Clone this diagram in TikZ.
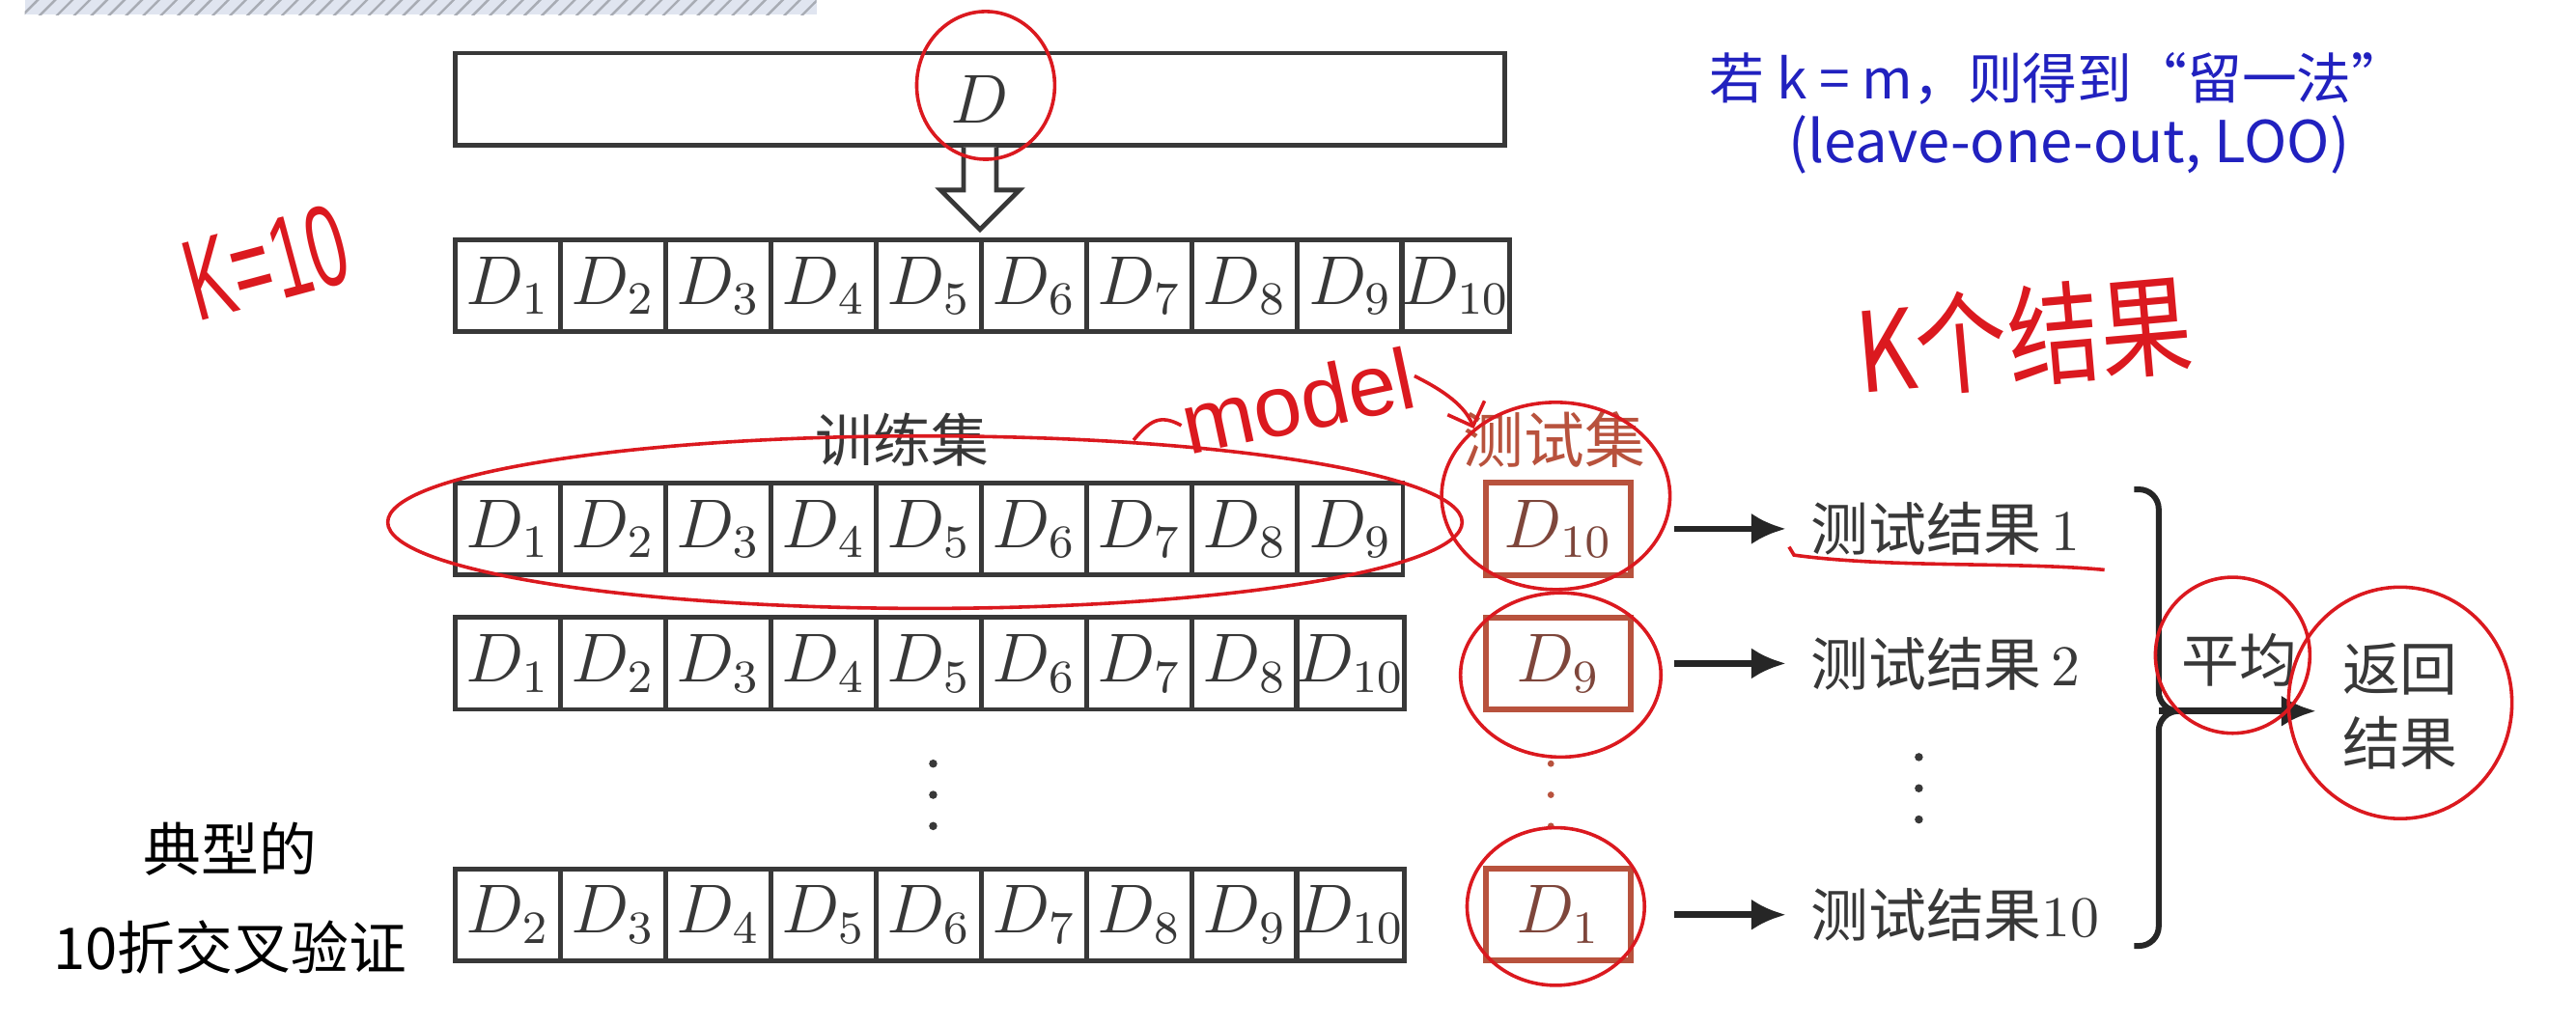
\documentclass[tikz,border=0pt]{standalone}
\usepackage{fontspec}
\newfontfamily\cjk{Noto Sans CJK SC}
\newfontfamily\handfont{Liberation Sans}
\usetikzlibrary{arrows.meta,shapes.geometric,patterns}

\definecolor{cellGrey}{rgb}{0.22,0.22,0.22}
\definecolor{testRed}{rgb}{0.72,0.32,0.24}
\definecolor{penRed}{rgb}{0.86,0.10,0.12}
\definecolor{noteBlue}{rgb}{0.13,0.13,0.75}
\definecolor{hatchGrey}{rgb}{0.88,0.90,0.94}

\tikzset{
  cell/.style={draw=cellGrey, line width=0.8pt, minimum width=0.641cm,
    minimum height=0.56cm, inner sep=0pt, text=cellGrey,
    font=\fontsize{12}{14}\selectfont},
  testbox/.style={cell, draw=testRed, line width=1pt, minimum width=0.88cm,
    text=testRed!55!cellGrey},
  txtlbl/.style={text=cellGrey, font={\cjk\fontsize{10}{13}\selectfont}, inner sep=1pt},
  slidetxt/.style={text=black, font={\cjk\fontsize{10}{13}\selectfont}, inner sep=0pt},
  note/.style={text=noteBlue, font={\cjk\fontsize{9.5}{12}\selectfont}, inner sep=0pt},
  arr/.style={-{Latex[length=2.1mm,width=1.9mm]}, line width=1.1pt, draw=black!85},
  brace/.style={line width=1pt, draw=black!85, rounded corners=1.2mm},
  pen/.style={draw=penRed, line width=0.6pt},
  penloop/.style={pen, ellipse, inner sep=0pt},
  handtxt/.style={text=penRed, inner sep=0pt},
}

\begin{document}
\begin{tikzpicture}[x=0.1cm,y=-0.1cm]
  \fill[white] (0,0) rectangle (156.8,62.4);
  \useasboundingbox (0,0) rectangle (156.8,62.4);
  \fill[hatchGrey] (1.5,0) rectangle (49.7,0.9);
  \fill[pattern=north east lines, pattern color=black!25!hatchGrey] (1.5,0) rectangle (49.7,0.9);

  % whole data set and its split
  \node[cell, minimum width=6.39cm] (dbox) at (59.65,6.03) {$D$};
  \draw[line width=0.8pt, draw=cellGrey, fill=white]
    (dbox.south) ++(-1.0,0) -- ++(0,2.6) -- ++(-1.4,0) -- ++(2.4,2.4)
    -- ++(2.4,-2.4) -- ++(-1.4,0) -- ++(0,-2.6);

  \foreach \k in {1,...,10}
    \node[cell] (p\k) at ({24.495+6.41*\k},17.4) {$D_{\k}$};

  % training folds
  \foreach \k [count=\i] in {1,...,9}
    \node[cell] (a\i) at ({24.495+6.41*\i},32.2) {$D_{\k}$};
  \foreach \k [count=\i] in {1,2,3,4,5,6,7,8,10}
    \node[cell] (b\i) at ({24.495+6.41*\i},40.4) {$D_{\k}$};
  \foreach \k [count=\i] in {2,...,10}
    \node[cell] (c\i) at ({24.495+6.41*\i},55.7) {$D_{\k}$};

  % test folds
  \node[testbox] (ta) at (94.85,32.2) {$D_{10}$};
  \node[testbox] (tb) at (94.85,40.4) {$D_{9}$};
  \node[testbox] (tc) at (94.85,55.7) {$D_{1}$};

  \node[txtlbl] (trainlbl) at (54.9,26.8) {训练集};
  \node[txtlbl, text=testRed, font={\cjk\fontsize{10.5}{13}\selectfont}] (testlbl) at (94.6,26.8) {测试集};

  % results
  \node[txtlbl, anchor=west] (ra) at (109.8,32.2) {测试结果\,{\rmfamily 1}};
  \node[txtlbl, anchor=west] (rb) at (109.8,40.4) {测试结果\,{\rmfamily 2}};
  \node[txtlbl, anchor=west] (rc) at (109.8,55.7) {测试结果{\rmfamily 10}};
  \foreach \t/\r in {ta/ra,tb/rb,tc/rc}
    \draw[arr, shorten <=2.5mm, shorten >=1.1mm] (\t.east) -- (\r.west);

  \foreach \y in {46.5,48.4,50.3}
  {
    \fill[cellGrey] (56.8,\y) circle (0.25);
    \fill[testRed] (94.4,\y) circle (0.2);
    \fill[cellGrey] (116.8,\y-0.4) circle (0.25);
  }

  % average
  \coordinate (bmid) at (131.4,43.3);
  \draw[brace] (129.9,29.8) -- (131.4,29.8) -- (bmid) -- (132.6,43.3);
  \draw[brace] (132.6,43.3) -- (bmid) -- (131.4,57.6) -- (129.9,57.6);
  \node[txtlbl] (avg) at (136.3,40.2) {平均};
  \node[txtlbl, align=center] (ret) at (146.1,43.0) {返回\\结果};
  \draw[arr, shorten >=1.2mm] (bmid) -- (bmid -| ret.west);

  % slide notes
  \node[note, anchor=west] (loo1) at (104.0,4.8) {若 k = m，则得到“留一法”};
  \node[note, anchor=west, font={\cjk\fontsize{10}{12}\selectfont}] (loo2) at (108.8,8.8) {(leave-one-out, LOO)};
  \node[slidetxt] (typ1) at (14.0,51.7) {典型的};
  \node[slidetxt] (typ2) at (14.0,57.7) {10折交叉验证};

  % pen marks
  \node[penloop, minimum width=0.84cm, minimum height=0.9cm] (dring) at (60.0,5.2) {};
  \node[handtxt, rotate=15, font={\handfont\fontsize{20}{20}\selectfont}] (kten) at (16.2,16.0) {\scalebox{0.6}[1]{K=10}};
  \node[penloop, minimum width=6.54cm, minimum height=1.05cm] (trainring) at (56.3,31.8) {};
  \node[penloop, minimum width=1.39cm, minimum height=1.14cm] (ringa) at (94.7,30.2) {};
  \node[penloop, minimum width=1.22cm, minimum height=1.0cm] (ringb) at (95.0,41.1) {};
  \node[penloop, minimum width=1.08cm, minimum height=0.96cm] (ringc) at (94.7,55.2) {};
  \node[penloop, minimum width=0.94cm, minimum height=0.95cm] (ringavg) at (135.9,39.9) {};
  \node[penloop, minimum width=1.36cm, minimum height=1.41cm] (ringret) at (146.1,42.8) {};
  \draw[pen] (108.9,33.3) -- (109.2,33.8) .. controls (115,34.6) and (123,34.2) .. (128.1,34.7);
  \node[handtxt, rotate=12, font={\handfont\fontsize{15}{15}\selectfont}] (model) at (79.0,24.4) {model};
  \draw[pen] (69.0,26.8) .. controls (70.0,25.6) and (70.6,25.2) .. (model.west);
  \draw[pen, -{Straight Barb[length=1.2mm]}] (model.east) .. controls +(1.2,0.6) and +(-0.6,-1.6) .. (ringa.north west);
  \node[handtxt, rotate=5, font={\cjk\fontsize{16}{16}\selectfont}] (kres) at (123.2,20.5) {\scalebox{1}[1.2]{K个结果}};
\end{tikzpicture}
\end{document}
